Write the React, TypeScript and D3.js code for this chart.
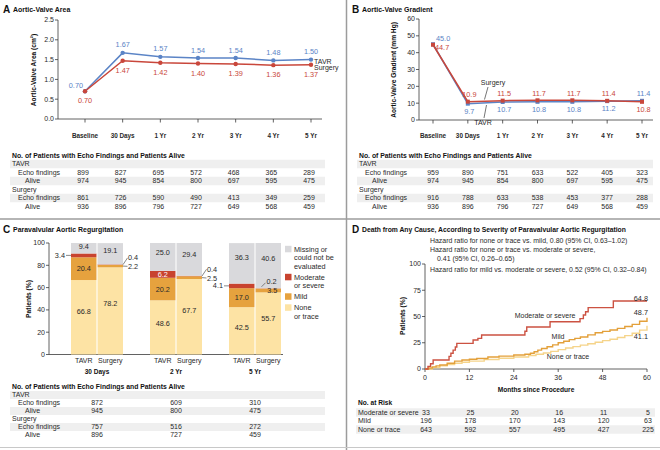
import React, { useEffect } from "react";
import * as d3 from "d3";

const FONT = "'Liberation Sans',Arial,sans-serif";

// ---------- Panels A and B ----------
const timepoints = ["Baseline", "30 Days", "1 Yr", "2 Yr", "3 Yr", "4 Yr", "5 Yr"];
const areaTAVR = [0.7, 1.67, 1.57, 1.54, 1.54, 1.48, 1.5];
const areaSurgery = [0.7, 1.47, 1.42, 1.4, 1.39, 1.36, 1.37];
const areaTicks = [0, 0.5, 1, 1.5, 2, 2.5];
const gradTAVR = [45.0, 9.7, 10.7, 10.8, 10.8, 11.2, 11.4];
const gradSurgery = [44.7, 10.9, 11.5, 11.7, 11.7, 11.4, 10.8];
const gradTicks = [0, 10, 20, 30, 40, 50, 60];

const areaEchoTAVR = [899, 827, 695, 572, 468, 365, 289];
const areaAliveTAVR = [974, 945, 854, 800, 697, 595, 475];
const areaEchoSurgery = [861, 726, 590, 490, 413, 349, 259];
const areaAliveSurgery = [936, 896, 796, 727, 649, 568, 459];
const gradEchoTAVR = [959, 890, 751, 633, 522, 405, 323];
const gradAliveTAVR = [974, 945, 854, 800, 697, 595, 475];
const gradEchoSurgery = [916, 788, 633, 538, 453, 377, 288];
const gradAliveSurgery = [936, 896, 796, 727, 649, 568, 459];

// ---------- Panel C ----------
const pvlGroups = ["30 Days", "2 Yr", "5 Yr"];
const pvlArms = ["TAVR", "Surgery"];
const pvlNone = [66.8, 78.2, 48.6, 67.7, 42.5, 55.7];
const pvlMild = [20.4, 2.2, 20.2, 2.5, 17.0, 3.5];
const pvlModerate = [3.4, 0.4, 6.2, 0.4, 4.1, 0.2];
const pvlMissing = [9.4, 19.1, 25.0, 29.4, 36.3, 40.6];
const pvlTicks = [0, 20, 40, 60, 80, 100];
const pvlEchoTAVR = [872, 609, 310];
const pvlAliveTAVR = [945, 800, 475];
const pvlEchoSurgery = [757, 516, 272];
const pvlAliveSurgery = [896, 727, 459];
const pvlLegendLabels = [["Missing or", "could not be", "evaluated"], ["Moderate", "or severe"], ["Mild"], ["None", "or trace"]];

// ---------- Panel D ----------
const kmModMonths = [0, 0.8, 1.5, 2.2, 6.5, 7, 7.6, 8.2, 8.6, 13, 14.3, 15.3, 27, 27.5, 33.8, 41.9, 42.8, 43.4, 44.1, 50.9, 60];
const kmModPct = [0, 2.5, 5, 8.6, 12, 15, 18, 21, 24.4, 27.6, 29.2, 32.4, 36, 40, 45, 48, 51.4, 54.5, 58.5, 64.8, 64.8];
const kmMildMonths = [0, 1, 2, 3, 4, 6, 8, 10, 12, 14, 17, 20, 24, 27, 28.5, 29.5, 30.5, 31.5, 33, 34.5, 36, 37.5, 39, 40.5, 42, 44, 46, 48, 50, 52, 54, 56, 58, 60];
const kmMildPct = [0, 1, 2, 3, 3.8, 5.5, 7.5, 8.6, 9.3, 10, 11.5, 12.3, 13.3, 14, 15, 16.5, 18, 19.5, 21.2, 23, 25, 26.5, 28, 29.2, 30.5, 32.5, 34.5, 35.8, 37.2, 38.7, 40.5, 42.5, 45.5, 48.7];
const kmNoneMonths = [0, 2, 4, 6, 8, 10, 12, 16, 20, 24, 28, 30, 32, 34, 36, 38, 40, 42, 44, 46, 48, 50, 52, 54, 56, 58, 60];
const kmNonePct = [0, 1.5, 3, 4.3, 5.5, 6.5, 7.5, 9, 10.2, 11.5, 12.8, 14, 15.3, 16.8, 18.5, 20, 21.3, 22.7, 24, 25.5, 27, 28.3, 30, 31.8, 34, 37, 41.1];
const kmFinalLabels = ["64.8", "48.7", "41.1"];
const kmTicksY = [0, 25, 50, 75, 100];
const riskMonths = [0, 12, 24, 36, 48, 60];
const riskModerate = [33, 25, 20, 16, 11, 5];
const riskMild = [196, 178, 170, 143, 120, 63];
const riskNone = [643, 592, 557, 495, 427, 225];
const hazardLines = [
  "Hazard ratio for none or trace vs. mild, 0.80 (95% CI, 0.63\u20131.02)",
  "Hazard ratio for none or trace vs. moderate or severe,",
  "0.41 (95% CI, 0.26\u20130.65)",
  "Hazard ratio for mild vs. moderate or severe, 0.52 (95% CI, 0.32\u20130.84)",
];

// ---------- Styles ----------
const BLUE = "#5b84c6";
const RED = "#c9473b";
const C_NONE = "#fde3a4";
const C_MILD = "#e6a23e";
const C_MOD = "#c8432f";
const C_MISS = "#d9d9dc";
const KM_MOD = "#cc5242";
const KM_MILD = "#e3a03a";
const KM_NONE = "#f5d48a";
const TXT = "#2a2a2a";
const AX = "#3a3a3a";
const BAND = "#efefef";

function T(props: { x: number; y: number; children: React.ReactNode; size?: number; bold?: boolean; anchor?: string; fill?: string; rotate?: number; sx?: number }) {
  const { x, y, children, size = 7, bold = false, anchor = "start", fill = TXT, rotate = 0 } = props;
  const s = props.sx ?? (bold ? 0.87 : 1);
  const tr = `translate(${x},${y})${rotate ? ` rotate(${rotate})` : ""}${s !== 1 ? ` scale(${s},1)` : ""}`;
  return (
    <text transform={tr} dy="0.35em" fontSize={size} fontWeight={bold ? "bold" : "normal"} textAnchor={anchor} fill={fill}>
      {children}
    </text>
  );
}

type Row = { label: string; indent: number; values?: number[] };

function Table(props: { x0: number; x1: number; headerY: number; header: string; rows: Row[]; xs: number[]; step: number; shade: number[] }) {
  const { x0, x1, headerY, header, rows, xs, step, shade } = props;
  return (
    <g>
      <T x={x0} y={headerY} size={7.6} bold fill="#111" sx={0.9}>{header}</T>
      {rows.map((r, i) => {
        const y = headerY + 9 + i * step;
        return (
          <g key={i}>
            {shade.includes(i) && <rect x={x0 - 2} y={y - step / 2} width={x1 - x0 + 2} height={step} fill={BAND} />}
            <T x={x0 + r.indent} y={y}>{r.label}</T>
            {r.values && r.values.map((v, j) => (
              <T key={j} x={xs[j]} y={y} anchor="middle">{v}</T>
            ))}
          </g>
        );
      })}
    </g>
  );
}

export default function App() {
  useEffect(() => {
    document.body.style.margin = "0";
  }, []);

  // scales
  const xA = d3.scalePoint<string>().domain(timepoints).range([85, 311]);
  const yA = d3.scaleLinear().domain([0, 2.5]).range([119, 20]);
  const xB = d3.scalePoint<string>().domain(timepoints).range([433, 642]);
  const yB = d3.scaleLinear().domain([0, 60]).range([120, 19]);
  const xC = d3.scaleBand<string>().domain(pvlGroups).range([57.5, 294.5]);
  const xArm = d3.scaleBand<string>().domain(pvlArms).range([13.5, 65.5]).paddingInner(0.04);
  const yC = d3.scaleLinear().domain([0, 100]).range([354.5, 243]);
  const xD = d3.scaleLinear().domain([0, 60]).range([425, 647]);
  const yD = d3.scaleLinear().domain([0, 100]).range([369, 264]);

  const lineA = d3.line<number>().x((_, i) => xA(timepoints[i])!).y((d) => yA(d));
  const lineB = d3.line<number>().x((_, i) => xB(timepoints[i])!).y((d) => yB(d));
  const km = d3.line<[number, number]>().curve(d3.curveStepAfter).x((d) => xD(d[0])).y((d) => yD(d[1]));
  const zip = (a: number[], b: number[]) => a.map((m, i) => [m, b[i]] as [number, number]);

  const fmt1 = d3.format(".1f");
  const fmt2 = d3.format(".2f");

  const panelTitle = (x: number, y: number, letter: string, title: string, sx = 0.87) => (
    <g>
      <T x={x} y={y} size={10} bold fill="#111" sx={1}>{letter}</T>
      <T x={x + 10} y={y} size={8} bold fill="#111" sx={sx}>{title}</T>
    </g>
  );

  // ----- Panel A -----
  const panelA = (
    <g>
      {panelTitle(3, 9, "A", "Aortic-Valve Area")}
      <line x1={58} x2={58} y1={20} y2={119} stroke={AX} strokeWidth={0.8} />
      <line x1={58} x2={322} y1={119} y2={119} stroke={AX} strokeWidth={0.8} />
      {areaTicks.map((t) => (
        <g key={t}>
          <line x1={55} x2={58} y1={yA(t)} y2={yA(t)} stroke={AX} strokeWidth={0.8} />
          <T x={54} y={yA(t)} anchor="end">{fmt1(t)}</T>
        </g>
      ))}
      {timepoints.map((t) => (
        <g key={t}>
          <line x1={xA(t)} x2={xA(t)} y1={119} y2={122.5} stroke={AX} strokeWidth={0.8} />
          <T x={xA(t)!} y={135} size={7.3} bold anchor="middle">{t}</T>
        </g>
      ))}
      <T x={33} y={70} rotate={-90} size={7.6} bold anchor="middle" fill="#111">Aortic-Valve Area (cm²)</T>
      <path d={lineA(areaTAVR)!} fill="none" stroke={BLUE} strokeWidth={1.5} />
      <path d={lineA(areaSurgery)!} fill="none" stroke={RED} strokeWidth={1.5} />
      {areaTAVR.map((v, i) => (
        <g key={"at" + i}>
          <circle cx={xA(timepoints[i])} cy={yA(v)} r={2.2} fill={BLUE} />
          <T x={xA(timepoints[i])! - (i === 0 ? 2 : 0)} y={yA(v) - (i === 0 ? 6 : 8)} size={7.3} anchor={i === 0 ? "end" : "middle"} fill={BLUE}>{fmt2(v)}</T>
        </g>
      ))}
      {areaSurgery.map((v, i) => (
        <g key={"as" + i}>
          <circle cx={xA(timepoints[i])} cy={yA(v)} r={2.2} fill={RED} />
          <T x={xA(timepoints[i])!} y={yA(v) + 9.5} size={7.3} anchor="middle" fill={RED}>{fmt2(v)}</T>
        </g>
      ))}
      <T x={314} y={yA(areaTAVR[6]) + 1.5}>TAVR</T>
      <T x={314} y={yA(areaSurgery[6]) + 3}>Surgery</T>
      <Table
        x0={12} x1={325} headerY={155} header="No. of Patients with Echo Findings and Patients Alive"
        xs={timepoints.map((t) => xA(t)! - 2)} step={8.5} shade={[0, 2, 4]}
        rows={[
          { label: "TAVR", indent: 0 },
          { label: "Echo findings", indent: 6, values: areaEchoTAVR },
          { label: "Alive", indent: 13, values: areaAliveTAVR },
          { label: "Surgery", indent: 0 },
          { label: "Echo findings", indent: 6, values: areaEchoSurgery },
          { label: "Alive", indent: 13, values: areaAliveSurgery },
        ]}
      />
    </g>
  );

  // ----- Panel B -----
  const panelB = (
    <g>
      {panelTitle(352, 9, "B", "Aortic-Valve Gradient")}
      <line x1={419} x2={419} y1={19} y2={120} stroke={AX} strokeWidth={0.8} />
      <line x1={419} x2={653} y1={120} y2={120} stroke={AX} strokeWidth={0.8} />
      {gradTicks.map((t) => (
        <g key={t}>
          <line x1={416} x2={419} y1={yB(t)} y2={yB(t)} stroke={AX} strokeWidth={0.8} />
          <T x={415} y={yB(t)} anchor="end">{t}</T>
        </g>
      ))}
      {timepoints.map((t) => (
        <g key={t}>
          <line x1={xB(t)} x2={xB(t)} y1={120} y2={123.5} stroke={AX} strokeWidth={0.8} />
          <T x={xB(t)!} y={135} size={7.3} bold anchor="middle">{t}</T>
        </g>
      ))}
      <T x={393} y={70} rotate={-90} size={7.6} bold anchor="middle" fill="#111">Aortic-Valve Gradient (mm Hg)</T>
      <path d={lineB(gradTAVR)!} fill="none" stroke={BLUE} strokeWidth={1.5} />
      <path d={lineB(gradSurgery)!} fill="none" stroke={RED} strokeWidth={1.5} />
      {gradTAVR.map((v, i) => (
        <rect key={"bt" + i} x={xB(timepoints[i])! - 2} y={yB(v) - 2} width={4} height={4} fill={BLUE} />
      ))}
      {gradSurgery.map((v, i) => (
        <rect key={"bs" + i} x={xB(timepoints[i])! - 2} y={yB(v) - 2} width={4} height={4} fill={RED} />
      ))}
      {timepoints.map((t, i) => {
        const tv = gradTAVR[i];
        const sv = gradSurgery[i];
        const tAbove = tv >= sv;
        const x = xB(t)!;
        if (i === 0) {
          return (
            <g key={"bl" + i}>
              <T x={x + 3} y={yB(tv) - 5.5} size={7.3} fill={BLUE}>{fmt1(tv)}</T>
              <T x={x + 2} y={yB(sv) + 2.5} size={7.3} fill={RED}>{fmt1(sv)}</T>
            </g>
          );
        }
        const yUp = Math.min(yB(tv), yB(sv)) - 7;
        const yDn = Math.max(yB(tv), yB(sv)) + 7.5;
        return (
          <g key={"bl" + i}>
            <T x={x + 1.5} y={tAbove ? yUp : yDn} size={7.3} anchor="middle" fill={BLUE}>{fmt1(tv)}</T>
            <T x={x + 1.5} y={tAbove ? yDn : yUp} size={7.3} anchor="middle" fill={RED}>{fmt1(sv)}</T>
          </g>
        );
      })}
      <T x={493} y={83} anchor="middle">Surgery</T>
      <line x1={488} y1={87} x2={484.5} y2={99.5} stroke={AX} strokeWidth={0.7} />
      <T x={483} y={122.5} anchor="middle">TAVR</T>
      <line x1={484} y1={118} x2={486.5} y2={105} stroke={AX} strokeWidth={0.7} />
      <Table
        x0={359} x1={653} headerY={155} header="No. of Patients with Echo Findings and Patients Alive"
        xs={timepoints.map((t) => xB(t)!)} step={8.5} shade={[0, 2, 4]}
        rows={[
          { label: "TAVR", indent: 0 },
          { label: "Echo findings", indent: 6, values: gradEchoTAVR },
          { label: "Alive", indent: 13, values: gradAliveTAVR },
          { label: "Surgery", indent: 0 },
          { label: "Echo findings", indent: 6, values: gradEchoSurgery },
          { label: "Alive", indent: 13, values: gradAliveSurgery },
        ]}
      />
    </g>
  );

  // ----- Panel C -----
  const bars: React.ReactNode[] = [];
  pvlGroups.forEach((g, gi) => {
    pvlArms.forEach((a, ai) => {
      const i = gi * 2 + ai;
      const x0 = xC(g)! + xArm(a)!;
      const w = xArm.bandwidth();
      const segs = [
        { v: pvlNone[i], c: C_NONE },
        { v: pvlMild[i], c: C_MILD },
        { v: pvlModerate[i], c: C_MOD },
        { v: pvlMissing[i], c: C_MISS },
      ];
      let cum = 0;
      const parts = segs.map((s, si) => {
        const lo = cum;
        cum += s.v;
        return { ...s, si, lo, hi: cum, yTop: yC(cum), yBot: yC(lo) };
      });
      bars.push(
        <g key={"bar" + i}>
          {parts.map((p) => (
            <rect key={p.si} x={x0} y={p.yTop} width={w} height={p.yBot - p.yTop} fill={p.c} />
          ))}
          {parts.map((p) => {
            const h = p.yBot - p.yTop;
            const cx = x0 + w / 2;
            if (p.si === 0) return <T key={"t" + p.si} x={cx} y={p.yTop + h * 0.42} size={7.3} anchor="middle">{fmt1(p.v)}</T>;
            if (p.si === 3) return <T key={"t" + p.si} x={cx} y={p.yTop + h * 0.35} size={7.3} anchor="middle">{fmt1(p.v)}</T>;
            if (h >= 6) return <T key={"t" + p.si} x={cx} y={(p.yTop + p.yBot) / 2} size={7.3} anchor="middle" fill={p.si === 2 ? "#fff" : TXT}>{fmt1(p.v)}</T>;
            const ym = (p.yTop + p.yBot) / 2;
            if (ai === 0) {
              return (
                <g key={"t" + p.si}>
                  <line x1={x0 - 5} x2={x0} y1={ym} y2={ym} stroke="#555" strokeWidth={0.7} />
                  <T x={x0 - 6} y={ym} size={7.3} anchor="end">{fmt1(p.v)}</T>
                </g>
              );
            }
            if (gi === pvlGroups.length - 1) {
              if (p.si === 2) {
                return (
                  <g key={"t" + p.si}>
                    <line x1={x0 + 6} y1={p.yTop - 1.5} x2={x0 + 10} y2={p.yTop - 5.5} stroke="#555" strokeWidth={0.7} />
                    <T x={x0 + 11} y={p.yTop - 6.5} size={7.3}>{fmt1(p.v)}</T>
                  </g>
                );
              }
              return <T key={"t" + p.si} x={x0 + w / 2 + 4} y={ym} size={7.3} anchor="middle">{fmt1(p.v)}</T>;
            }
            const ly = p.si === 2 ? parts[2].yTop - 6.5 : parts[1].yBot - 1;
            return (
              <g key={"t" + p.si}>
                <line x1={x0 + w} y1={ym} x2={x0 + w + 4.5} y2={ly} stroke="#555" strokeWidth={0.7} />
                <T x={x0 + w + 5} y={ly} size={7.3}>{fmt1(p.v)}</T>
              </g>
            );
          })}
          <T x={x0 + w / 2} y={361} anchor="middle">{a}</T>
        </g>
      );
    });
  });

  const legendColors = [C_MISS, C_MOD, C_MILD, C_NONE];
  let ly = 249;
  const legend = pvlLegendLabels.map((lines, k) => {
    const y0 = ly;
    ly += lines.length * 8.5 + 2.5;
    return (
      <g key={"lg" + k}>
        <rect x={285} y={y0 - 3.2} width={6.5} height={6.5} fill={legendColors[k]} />
        {lines.map((l, j) => (
          <T key={j} x={294} y={y0 + j * 8.5} size={7.3}>{l}</T>
        ))}
      </g>
    );
  });

  const panelC = (
    <g>
      {panelTitle(3, 229, "C", "Paravalvular Aortic Regurgitation")}
      <line x1={49} x2={49} y1={243} y2={354.5} stroke={AX} strokeWidth={0.8} />
      <line x1={49} x2={283} y1={354.5} y2={354.5} stroke={AX} strokeWidth={0.8} />
      {pvlTicks.map((t) => (
        <g key={t}>
          <line x1={46} x2={49} y1={yC(t)} y2={yC(t)} stroke={AX} strokeWidth={0.8} />
          <T x={45} y={yC(t)} anchor="end">{t}</T>
        </g>
      ))}
      <T x={28} y={299} rotate={-90} size={7.6} bold anchor="middle" fill="#111">Patients (%)</T>
      {bars}
      {pvlGroups.map((g) => (
        <T key={g} x={xC(g)! + xC.bandwidth() / 2} y={371} size={7.5} bold anchor="middle" fill="#111">{g}</T>
      ))}
      {legend}
      <Table
        x0={12} x1={325} headerY={386} header="No. of Patients with Echo Findings and Patients Alive"
        xs={pvlGroups.map((g) => xC(g)! + xC.bandwidth() / 2)} step={8} shade={[0, 2, 4]}
        rows={[
          { label: "TAVR", indent: 0 },
          { label: "Echo findings", indent: 6, values: pvlEchoTAVR },
          { label: "Alive", indent: 13, values: pvlAliveTAVR },
          { label: "Surgery", indent: 0 },
          { label: "Echo findings", indent: 6, values: pvlEchoSurgery },
          { label: "Alive", indent: 13, values: pvlAliveSurgery },
        ]}
      />
    </g>
  );

  // ----- Panel D -----
  const modPts = zip(kmModMonths, kmModPct);
  const mildPts = zip(kmMildMonths, kmMildPct);
  const nonePts = zip(kmNoneMonths, kmNonePct);
  const finals = [kmModPct[kmModPct.length - 1], kmMildPct[kmMildPct.length - 1], kmNonePct[kmNonePct.length - 1]];
  const finalOffsets = [-3, -5, 11];
  const riskRows = [
    { label: "Moderate or severe", values: riskModerate },
    { label: "Mild", values: riskMild },
    { label: "None or trace", values: riskNone },
  ];
  const panelD = (
    <g>
      {panelTitle(352, 229, "D", "Death from Any Cause, According to Severity of Paravalvular Aortic Regurgitation", 0.85)}
      {hazardLines.map((h, k) => (
        <T key={k} x={k === 2 ? 437 : 430} y={[240, 249.5, 258.5, 269][k]} size={7.8} sx={0.89}>{h}</T>
      ))}
      <line x1={425} x2={425} y1={264} y2={369} stroke={AX} strokeWidth={0.8} />
      <line x1={425} x2={647} y1={369} y2={369} stroke={AX} strokeWidth={0.8} />
      {kmTicksY.map((t) => (
        <g key={t}>
          <line x1={422} x2={425} y1={yD(t)} y2={yD(t)} stroke={AX} strokeWidth={0.8} />
          <T x={421} y={yD(t)} anchor="end">{t}</T>
        </g>
      ))}
      {riskMonths.map((t) => (
        <g key={t}>
          <line x1={xD(t)} x2={xD(t)} y1={369} y2={372} stroke={AX} strokeWidth={0.8} />
          <T x={xD(t)} y={377.5} anchor="middle">{t}</T>
        </g>
      ))}
      <T x={536} y={389} size={7.6} bold anchor="middle" fill="#111">Months since Procedure</T>
      <T x={402} y={316} rotate={-90} size={7.6} bold anchor="middle" fill="#111">Patients (%)</T>
      <path d={km(nonePts)!} fill="none" stroke={KM_NONE} strokeWidth={1.4} />
      <path d={km(mildPts)!} fill="none" stroke={KM_MILD} strokeWidth={1.4} />
      <path d={km(modPts)!} fill="none" stroke={KM_MOD} strokeWidth={1.4} />
      {finals.map((v, k) => (
        <T key={k} x={648} y={yD(v) + finalOffsets[k]} size={7.3} anchor="end">{kmFinalLabels[k]}</T>
      ))}
      <T x={545} y={316} size={7} anchor="middle">Moderate or severe</T>
      <T x={558} y={337} size={7} anchor="middle">Mild</T>
      <T x={568} y={357} size={7} anchor="middle">None or trace</T>
      <T x={358} y={402} size={7.6} bold fill="#111">No. at Risk</T>
      {riskRows.map((r, k) => {
        const y = 412.5 + k * 8.5;
        return (
          <g key={k}>
            {k !== 1 && <rect x={356} y={y - 4.25} width={299} height={8.5} fill={BAND} />}
            <T x={358} y={y}>{r.label}</T>
            {r.values.map((v, j) => (
              <T key={j} x={xD(riskMonths[j]) + 1} y={y} anchor="middle">{v}</T>
            ))}
          </g>
        );
      })}
    </g>
  );

  return (
    <svg width={660} height={450} style={{ display: "block", fontFamily: FONT, background: "#fff" }}>
      <rect x={0} y={0} width={660} height={450} fill="#fff" />
      {panelA}
      {panelB}
      {panelC}
      {panelD}
      <line x1={346.5} x2={346.5} y1={0} y2={450} stroke="#9c9c9c" strokeWidth={1.5} />
      <line x1={0} x2={660} y1={219} y2={219} stroke="#9c9c9c" strokeWidth={1.5} />
      <line x1={0} x2={660} y1={447.5} y2={447.5} stroke="#c8c8c8" strokeWidth={1} />
    </svg>
  );
}
